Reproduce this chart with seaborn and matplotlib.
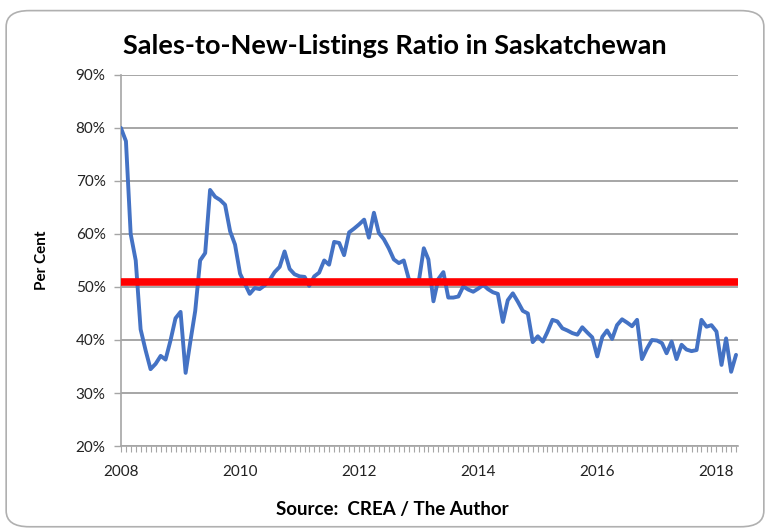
import matplotlib
matplotlib.use("Agg")
import matplotlib.pyplot as plt
import matplotlib.dates as mdates
from matplotlib.patches import FancyBboxPatch
from matplotlib.ticker import FuncFormatter
import seaborn as sns
import pandas as pd

# Monthly sales-to-new-listings ratio (per cent), Jan 2008 - May 2018
snlr = [
    80.0, 77.5, 60.0, 55.0, 42.0, 38.0, 34.5, 35.5, 37.0, 36.3,
    40.0, 44.1, 45.3, 33.8, 39.5, 45.5, 55.0, 56.4, 68.3, 67.0,
    66.4, 65.5, 60.5, 58.0, 52.5, 50.5, 48.7, 49.8, 49.6, 50.3,
    51.3, 52.8, 53.8, 56.7, 53.4, 52.4, 52.0, 51.9, 50.2, 52.0,
    52.7, 55.0, 54.2, 58.5, 58.3, 56.0, 60.3, 61.0, 61.8, 62.7,
    59.3, 64.0, 60.2, 59.0, 57.3, 55.2, 54.5, 55.0, 51.5, 50.8,
    51.0, 57.3, 55.2, 47.3, 51.5, 52.8, 48.0, 48.0, 48.2, 50.1,
    49.5, 49.1, 49.7, 50.4, 49.6, 49.0, 48.7, 43.4, 47.5, 48.8,
    47.2, 45.5, 45.0, 39.6, 40.7, 39.7, 41.5, 43.8, 43.5, 42.2,
    41.8, 41.3, 41.0, 42.4, 41.4, 40.5, 36.9, 40.6, 41.8, 40.2,
    42.8, 43.9, 43.3, 42.6, 43.8, 36.4, 38.4, 40.0, 39.9, 39.4,
    37.5, 39.7, 36.4, 39.1, 38.2, 37.9, 38.1, 43.8, 42.5, 42.8,
    41.6, 35.3, 40.3, 34.0, 37.2,
]
months = pd.date_range("2008-01-01", periods=len(snlr), freq="MS")
long_run_avg = 51.0
y_ticks = [20, 30, 40, 50, 60, 70, 80, 90]
year_ticks = [2008, 2010, 2012, 2014, 2016, 2018]

df = pd.DataFrame({"month": months, "ratio": snlr})

sns.set_theme(style="white")
plt.rcParams["font.family"] = ["Lato", "DejaVu Sans"]

fig = plt.figure(figsize=(7.7, 5.31), dpi=100, facecolor="white")

# rounded chart-area border like Excel
border = FancyBboxPatch((0.008, 0.008), 0.984, 0.972,
                        boxstyle="round,pad=0,rounding_size=0.03",
                        transform=fig.transFigure, facecolor="none",
                        edgecolor="#b0b0b0", linewidth=1.2, zorder=-1)
fig.patches.append(border)

ax = fig.add_axes([0.157, 0.160, 0.801, 0.699])
ax.patch.set_alpha(0.0)

sns.lineplot(data=df, x="month", y="ratio", color="#4472C4",
             linewidth=2.8, ax=ax, zorder=3)
ax.axhline(long_run_avg, color="#FF0000", linewidth=5.5, zorder=4)

ax.set_ylim(20, 90)
ax.set_yticks(y_ticks)
ax.yaxis.set_major_formatter(FuncFormatter(lambda v, p: f"{int(v)}%"))
ax.grid(axis="y", color="#a6a6a6", linewidth=1.4)
ax.set_axisbelow(True)

ax.set_xlim(months[0], months[-1] + pd.Timedelta(days=10))
ax.set_xticks([pd.Timestamp(f"{y}-01-01") for y in year_ticks])
ax.xaxis.set_major_formatter(mdates.DateFormatter("%Y"))
ax.xaxis.set_minor_locator(mdates.MonthLocator())

for s in ["top", "right"]:
    ax.spines[s].set_visible(False)
for s in ["left", "bottom"]:
    ax.spines[s].set_color("#a6a6a6")
    ax.spines[s].set_linewidth(1.2)

ax.tick_params(axis="y", which="major", left=True, length=5, width=1,
               color="#a6a6a6", labelsize=11, labelcolor="#222222", pad=6)
ax.tick_params(axis="x", which="major", bottom=True, length=4, width=0.8,
               color="#a6a6a6", labelsize=11, labelcolor="#222222", pad=10)
ax.tick_params(axis="x", which="minor", bottom=True, length=4, width=0.8,
               color="#a6a6a6")

ax.set_xlabel("")
ax.set_ylabel("Per Cent", fontsize=11, fontweight="bold", labelpad=19,
              color="black")

fig.text(0.513, 0.913, "Sales-to-New-Listings Ratio in Saskatchewan",
         ha="center", va="center", fontsize=19.5, fontweight="bold",
         color="black")
fig.text(0.509, 0.040, "Source:  CREA / The Author",
         ha="center", va="center", fontsize=13.5, fontweight="bold",
         color="black")

fig.savefig("out.png", dpi=100)
